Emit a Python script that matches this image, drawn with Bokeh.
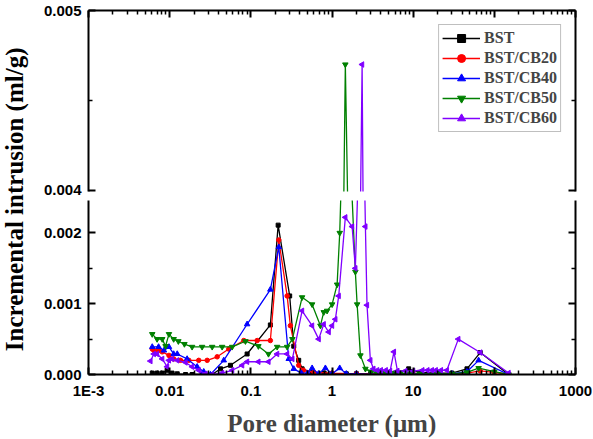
import math
from bokeh.plotting import figure
from bokeh.layouts import row, column
from bokeh.models import (Range1d, FixedTicker, PrintfTickFormatter, LinearAxis,
                          Legend, LegendItem, CustomJSTickFormatter)
from bokeh.core.properties import value
from bokeh.embed import file_html
from bokeh.resources import INLINE

# ---------------- data ----------------
series_names = ["BST", "BST/CB20", "BST/CB40", "BST/CB50", "BST/CB60"]

bst_x = [0.0061, 0.0070, 0.0081, 0.0093, 0.0107, 0.0124, 0.0157, 0.0189, 0.0251, 0.0334, 0.0423,
         0.0561, 0.0900, 0.174, 0.217, 0.301, 0.338, 0.389, 0.428, 0.57, 0.8, 1.0, 1.5, 2.0, 3.0,
         4.5, 6.0, 8.8, 12, 20, 30, 46, 67, 150]
bst_y = [0.00002, 0.00002, 0.00002, 0.00006, 0.00002, 0.00001, 0.0, 0.0, 0.0, 0.0, 0.00008,
         0.00013, 0.00029, 0.00070, 0.00211, 0.00111, 0.00040, 0.00020, 0.00008, 0.00003, 0.00002,
         0.00001, 0.00001, 0.00001, 0.00001, 0.00001, 0.00002, 0.00008, 0.00003, 0.00002, 0.00002,
         0.00008, 0.00031, 0.0]

cb20_x = [0.0061, 0.0064, 0.0073, 0.0081, 0.0098, 0.0112, 0.0136, 0.0172, 0.0228, 0.0290, 0.0385,
          0.0535, 0.0819, 0.1197, 0.174, 0.221, 0.280, 0.307, 0.389, 0.444, 0.6, 1.0, 2.0, 5.0, 10,
          20, 46, 67, 100, 150]
cb20_y = [0.00036, 0.00034, 0.00034, 0.00032, 0.00027, 0.00022, 0.00020, 0.00020, 0.00020, 0.00020,
          0.00025, 0.00036, 0.00048, 0.00048, 0.00048, 0.00190, 0.00111, 0.00069, 0.00013, 0.00006,
          0.00003, 0.00002, 0.00001, 0.00001, 0.00001, 0.0, 0.00002, 0.00005, 0.00003, 0.0]

cb40_x = [0.0061, 0.0073, 0.0085, 0.0098, 0.0112, 0.0124, 0.0164, 0.0218, 0.0263, 0.0318, 0.0464,
          0.090, 0.174, 0.221, 0.293, 0.338, 0.42, 0.50, 0.569, 0.68, 0.829, 1.0, 1.245, 1.5, 2.0,
          3.0, 5.0, 10, 20, 30, 46, 64, 150]
cb40_y = [0.00039, 0.00039, 0.00034, 0.00039, 0.00029, 0.00029, 0.00022, 0.00011, 0.00004, 0.0,
          0.00020, 0.00071, 0.00120, 0.00180, 0.00022, 0.00008, 0.00002, 0.00002, 0.00009, 0.00001,
          0.00009, 0.00001, 0.00009, 0.00001, 0.00001, 0.0, 0.00001, 0.00001, 0.00001, 0.00001,
          0.00004, 0.00020, 0.0]

cb50_x = [0.0061, 0.0070, 0.0081, 0.0089, 0.0098, 0.0112, 0.0128, 0.0152, 0.0189, 0.0251, 0.0334,
          0.0443, 0.0589, 0.0858, 0.124, 0.165, 0.211, 0.280, 0.325, 0.428, 0.569, 0.720, 0.791,
          0.870, 1.003, 1.156, 1.245, 1.46, 1.94, 2.04, 2.24, 2.58, 3.0, 3.5, 4.5, 5.5, 7.0, 9.0,
          12, 20, 30, 46, 64, 100, 150]
cb50_y = [0.00057, 0.00050, 0.00050, 0.00040, 0.00057, 0.00050, 0.00047, 0.00043, 0.00039, 0.00039,
          0.00039, 0.00039, 0.00039, 0.00047, 0.00040, 0.00029, 0.00039, 0.00039, 0.00050, 0.00109,
          0.00099, 0.00069, 0.00088, 0.00090, 0.00099, 0.00127, 0.00200, 0.00470, 0.00145, 0.00099,
          0.00027, 0.00008, 0.00004, 0.00003, 0.00003, 0.00002, 0.00002, 0.00001, 0.00001, 0.00001,
          0.00001, 0.00003, 0.00009, 0.00004, 0.0]

cb60_x = [0.0058, 0.0064, 0.0070, 0.0081, 0.0093, 0.0098, 0.0107, 0.0124, 0.0157, 0.0189, 0.0228,
          0.0276, 0.0334, 0.0443, 0.0589, 0.0782, 0.0900, 0.124, 0.165, 0.211, 0.280, 0.325, 0.428,
          0.569, 0.686, 0.791, 0.911, 1.003, 1.10, 1.21, 1.46, 1.77, 1.94, 2.35, 2.58, 2.70, 2.97,
          3.24, 3.6, 4.0, 4.6, 5.2, 5.8, 6.4, 8.0, 10, 13, 15, 17, 19, 22, 26, 36, 67, 150]
cb60_y = [0.00019, 0.00029, 0.00029, 0.00022, 0.00011, 0.00020, 0.00022, 0.00020, 0.00017, 0.00011,
          0.00006, 0.00001, 0.0, 0.00002, 0.00006, 0.00013, 0.00018, 0.00018, 0.00018, 0.00029,
          0.00029, 0.00022, 0.00090, 0.00069, 0.00050, 0.00071, 0.00060, 0.00069, 0.00078, 0.00111,
          0.00222, 0.00209, 0.00150, 0.00470, 0.00209, 0.00098, 0.00020, 0.00008, 0.00006, 0.00006,
          0.00006, 0.00005, 0.00032, 0.00005, 0.00005, 0.00005, 0.00006, 0.00006, 0.00006, 0.00006,
          0.00006, 0.00006, 0.00050, 0.00031, 0.00002]

x_tick_values = [0.001, 0.01, 0.1, 1, 10, 100, 1000]
x_tick_labels = ["1E-3", "0.01", "0.1", "1", "10", "100", "1000"]
y_low_ticks = [0.000, 0.001, 0.002]
y_low_minor = [0.0005, 0.0015]
y_high_ticks = [0.004, 0.005]
y_high_minor = [0.0045]
x_label = "Pore diameter (\u03bcm)"
y_label = "Incremental intrusion (ml/g)"

# ---------------- style ----------------
all_x = [bst_x, cb20_x, cb40_x, cb50_x, cb60_x]
all_y = [bst_y, cb20_y, cb40_y, cb50_y, cb60_y]
colors = ["#000000", "#FF0000", "#0000FF", "#008000", "#8000FF"]
markers = ["square", "circle", "triangle", "inverted_triangle", "triangle"]
marker_angles = [0, 0, 0, 0, math.pi / 2]
marker_sizes = [4, 4.5, 5.5, 5.5, 5.5]

x_minor = [k * 10.0 ** d for d in range(-3, 3) for k in range(2, 10)]
x_overrides = {v: lab for v, lab in zip(x_tick_values, x_tick_labels)}

TICK_FONT = "Liberation Sans"
TITLE_FONT = "Liberation Serif"


def style_axis(ax, labels=True):
    ax.axis_line_width = 2
    ax.axis_line_color = "black"
    ax.major_tick_in = 7
    ax.major_tick_out = 0
    ax.minor_tick_in = 4
    ax.minor_tick_out = 0
    ax.major_tick_line_width = 2
    ax.minor_tick_line_width = 1.5
    ax.major_tick_line_color = "black"
    ax.minor_tick_line_color = "black"
    ax.major_label_text_font = TICK_FONT
    ax.major_label_text_font_style = "bold"
    ax.major_label_text_font_size = "15px"
    ax.major_label_text_color = "black"
    ax.major_label_standoff = 7
    if not labels:
        ax.formatter = CustomJSTickFormatter(code="return ''")
        ax.major_label_text_font_size = "1px"
        ax.major_label_standoff = 0


def make_panel(height, y0, y1, yt, ymt, mb_top, mb_bottom, upper):
    p = figure(width=563, height=height, x_axis_type="log",
               x_range=Range1d(0.001, 1000), y_range=Range1d(y0, y1),
               x_axis_location="above" if upper else "below", y_axis_location="left",
               output_backend="svg", toolbar_location=None,
               min_border_left=58, min_border_right=18,
               min_border_top=mb_top, min_border_bottom=mb_bottom)
    p.outline_line_color = None
    p.xgrid.visible = False
    p.ygrid.visible = False
    p.background_fill_color = "white"
    p.border_fill_color = "white"

    xax = p.xaxis[0]
    xax.ticker = FixedTicker(ticks=x_tick_values, minor_ticks=x_minor)
    if upper:
        style_axis(xax, labels=False)
    else:
        style_axis(xax, labels=True)
        xax.major_label_overrides = x_overrides
        xax.axis_label = x_label
        xax.axis_label_text_font = TITLE_FONT
        xax.axis_label_text_font_style = "bold"
        xax.axis_label_text_font_size = "25px"
        xax.axis_label_standoff = 8

    yax = p.yaxis[0]
    yax.ticker = FixedTicker(ticks=yt, minor_ticks=ymt)
    yax.formatter = PrintfTickFormatter(format="%.3f")
    style_axis(yax, labels=True)

    rax = LinearAxis(ticker=FixedTicker(ticks=yt, minor_ticks=ymt))
    style_axis(rax, labels=False)
    p.add_layout(rax, "right")

    renderers = []
    for xs, ys, c, m, a, s in zip(all_x, all_y, colors, markers, marker_angles, marker_sizes):
        lr = p.line(xs, ys, line_color=c, line_width=1.3)
        sr = p.scatter(xs, ys, marker=m, angle=a, size=s, fill_color=c, line_color=c)
        renderers.append((lr, sr))
    return p, renderers


upper, rend_u = make_panel(199, 0.0039944, 0.005, y_high_ticks, y_high_minor, 10, 8, True)
lower, rend_l = make_panel(240, 0.0, 0.002458, y_low_ticks, y_low_minor, 1, 63, False)

legend = Legend(items=[LegendItem(label=n, renderers=list(r)) for n, r in zip(series_names, rend_u)],
                location="top_right", margin=14, padding=3, spacing=0,
                label_height=20, glyph_height=20, glyph_width=38, label_standoff=4,
                label_text_font=TITLE_FONT, label_text_font_style="bold",
                label_text_font_size="16px", label_text_baseline="middle",
                border_line_color="#808080", border_line_width=1,
                background_fill_color="white", background_fill_alpha=1.0)
upper.add_layout(legend)

# y-axis title panel
lab = figure(width=30, height=439, x_range=Range1d(0, 1), y_range=Range1d(0, 1),
             x_axis_location=None, y_axis_location=None, output_backend="svg",
             toolbar_location=None, min_border=0)
lab.outline_line_color = None
lab.xgrid.visible = False
lab.ygrid.visible = False
lab.text(x=[0.47], y=[0.547], text=[y_label], angle=math.pi / 2,
         text_align="center", text_baseline="middle",
         text_font=value(TITLE_FONT), text_font_style="bold", text_font_size="25px",
         text_color="black")

layout = row(lab, column(upper, lower, spacing=0), spacing=0)

open("out.html", "w").write(file_html(layout, INLINE))
